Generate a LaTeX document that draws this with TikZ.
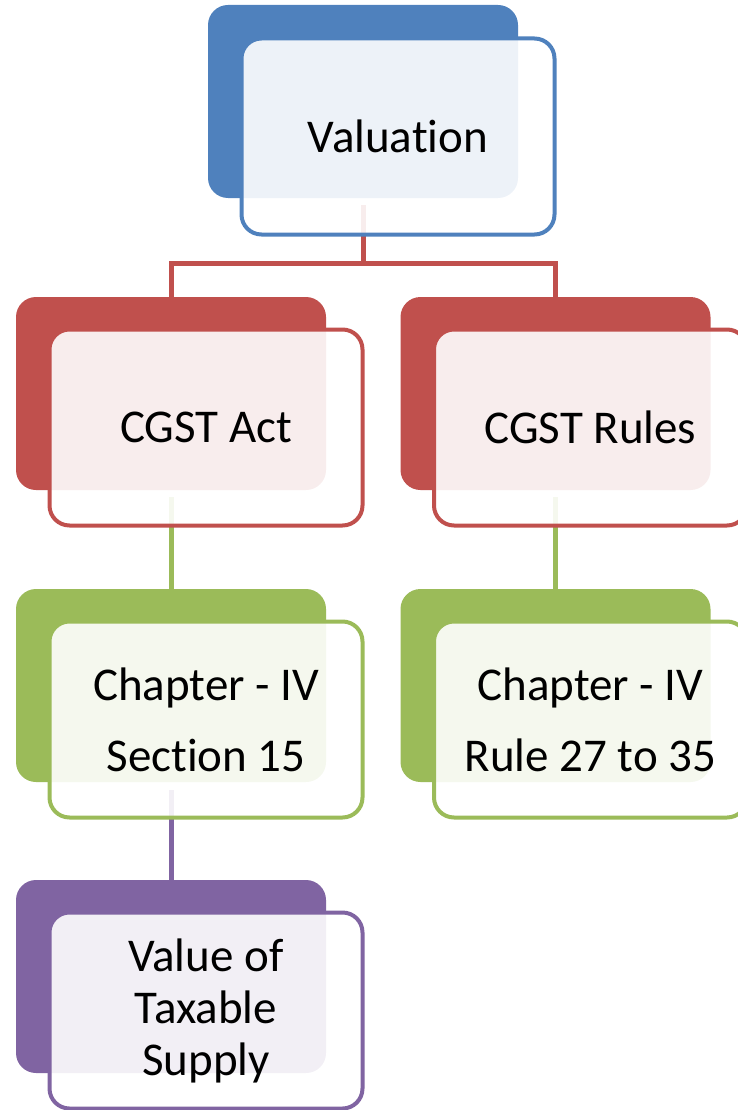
\documentclass[tikz,border=0pt]{standalone}
\usepackage{fontspec}
\setmainfont{Carlito}[Ligatures=NoCommon]
\usetikzlibrary{backgrounds}

\definecolor{valblue}{HTML}{4F81BD}
\definecolor{lawred}{HTML}{C0504D}
\definecolor{chapgreen}{HTML}{9BBB59}
\definecolor{supplyviolet}{HTML}{8064A2}

\begin{document}
\begin{tikzpicture}[x=1pt,y=-1pt,
  backbox/.style={fill=#1,rounded corners=20pt,minimum width=310pt,minimum height=193pt,inner sep=0pt},
  frontbox/.style={draw=#1,line width=4pt,fill=white,fill opacity=0.9,text opacity=1,rounded corners=20pt,
    minimum width=313pt,minimum height=196pt,inner sep=0pt,align=center,font=\fontsize{47}{57}\selectfont},
  link/.style={draw=#1,line width=5pt}]
  \useasboundingbox (0,0) rectangle (738,1110);

  %top
  \node[backbox=valblue] (valback) at (363,101.5) {};
  \node[frontbox=valblue] (val) at ([shift={(35,35)}]valback.center) {Valuation};

  %second row
  \node[backbox=lawred] (actback) at (171,393.5) {};
  \node[frontbox=lawred] (act) at ([shift={(35,34)}]actback.center) {CGST Act};
  \node[backbox=lawred] (rulesback) at (555.5,393.5) {};
  \node[frontbox=lawred] (rules) at ([shift={(35,34)}]rulesback.center) {CGST Rules};

  %third row
  \node[backbox=chapgreen] (secback) at (171,685.5) {};
  \node[frontbox=chapgreen] (sec) at ([shift={(35,34)}]secback.center) {Chapter - IV\\[14pt]Section 15};
  \node[backbox=chapgreen] (ruleback) at (555.5,685.5) {};
  \node[frontbox=chapgreen] (rule) at ([shift={(35,34)}]ruleback.center) {Chapter - IV\\[14pt]Rule 27 to 35};

  %bottom
  \node[backbox=supplyviolet] (supplyback) at (171,976.5) {};
  \node[frontbox=supplyviolet,font=\fontsize{47}{52}\selectfont] (supply) at ([shift={(35,34)}]supplyback.center) {Value of\\Taxable\\Supply};

  %links
  \begin{scope}[on background layer]
    \coordinate (split) at (363,263);
    \draw[link=lawred] ([yshift=-7pt]valback.south) -- (split);
    \draw[link=lawred] (actback.north) |- (split) -| (rulesback.north);
    \draw[link=chapgreen] ([yshift=-7pt]actback.south) -- (secback.north);
    \draw[link=chapgreen] ([yshift=-7pt]rulesback.south) -- (ruleback.north);
    \draw[link=supplyviolet] ([yshift=-8pt]secback.south) -- (supplyback.north);
  \end{scope}
\end{tikzpicture}
\end{document}
